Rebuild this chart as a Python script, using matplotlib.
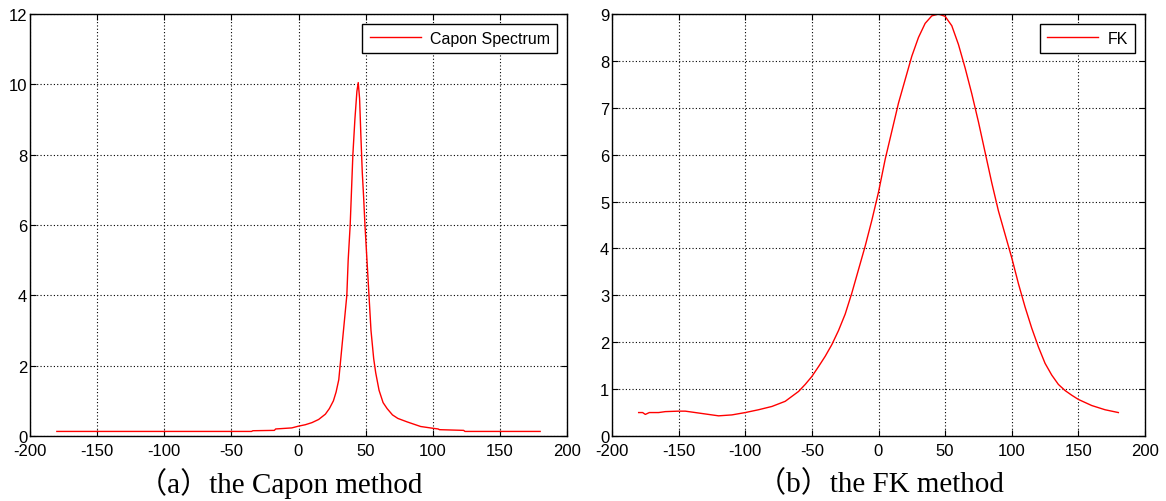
import numpy as np
import matplotlib
matplotlib.use("Agg")
import matplotlib.pyplot as plt

# Capon spectrum
capon_deg = [-180, -35, -34, -18, -17, -5, 0, 5, 10, 15, 20, 23, 26, 28, 30,
             31, 33, 34.5, 36, 37, 38.5, 39.5, 40.5, 42, 43.5, 44.5, 45.5,
             46.5, 47.5, 48.5, 49.5, 51, 52.5, 54, 56, 57.5, 60, 63, 66, 70,
             74, 81, 91, 100, 104, 105, 123, 124, 180]
capon_val = [0.13, 0.13, 0.15, 0.16, 0.2, 0.23, 0.28, 0.32, 0.38, 0.47, 0.62,
             0.78, 1.0, 1.25, 1.6, 2.0, 2.8, 3.4, 4.0, 5.0, 6.0, 7.0, 8.0, 9.0,
             9.8, 10.05, 9.6, 8.5, 7.5, 6.8, 6.0, 5.0, 4.0, 3.0, 2.2, 1.8, 1.3,
             0.95, 0.78, 0.6, 0.5, 0.4, 0.27, 0.22, 0.2, 0.18, 0.16, 0.13, 0.13]

# FK spectrum
fk_deg = [-180, -177, -175, -172, -165, -160, -150, -145, -140, -130, -120,
          -110, -100, -90, -80, -70, -60, -55, -50, -45, -40, -35, -30, -25,
          -20, -15, -10, -5, 0, 5, 10, 15, 20, 25, 30, 35, 40, 45, 50, 55,
          60, 65, 70, 75, 80, 85, 90, 95, 100, 105, 110, 115, 120, 125, 130,
          135, 140, 145, 150, 160, 170, 180]
fk_val = [0.50, 0.50, 0.46, 0.50, 0.50, 0.52, 0.53, 0.53, 0.51, 0.47, 0.43,
          0.45, 0.50, 0.56, 0.63, 0.74, 0.95, 1.1, 1.27, 1.48, 1.70, 1.95,
          2.25, 2.6, 3.05, 3.55, 4.05, 4.6, 5.2, 5.9, 6.5, 7.1, 7.6, 8.1, 8.5,
          8.8, 8.96, 9.0, 8.95, 8.75, 8.35, 7.85, 7.3, 6.7, 6.05, 5.4, 4.8,
          4.3, 3.8, 3.25, 2.75, 2.3, 1.9, 1.55, 1.3, 1.1, 0.97, 0.87, 0.78,
          0.65, 0.56, 0.50]

xticks = [-200, -150, -100, -50, 0, 50, 100, 150, 200]

plt.rcParams['axes.unicode_minus'] = False
plt.rcParams['font.family'] = ['Liberation Sans', 'DejaVu Sans']

fig = plt.figure(figsize=(11.66, 5.02), dpi=100)
W, H = 1166, 502


def make_axes(x0, x1, y0, y1):
    return fig.add_axes([x0 / W, 1 - y1 / H, (x1 - x0) / W, (y1 - y0) / H])


def style(ax, ymax):
    ax.set_xlim(-200, 200)
    ax.set_ylim(0, ymax)
    ax.set_xticks(xticks)
    ax.set_yticks(range(0, ymax + 1, 2 if ymax == 12 else 1))
    ax.grid(True, color='black', linestyle=(0, (1, 2)), linewidth=0.8)
    ax.tick_params(direction='in', top=True, right=True, length=4,
                   labelsize=12, color='black')
    ax.tick_params(axis='x', pad=5)
    ax.tick_params(axis='y', pad=2)
    for s in ax.spines.values():
        s.set_linewidth(1.0)
        s.set_color('black')


ax1 = make_axes(30, 567, 15, 437)
ax1.plot(capon_deg, capon_val, color='red', linewidth=1.0, label='Capon Spectrum')
style(ax1, 12)

ax2 = make_axes(612, 1145, 15, 437)
ax2.plot(fk_deg, fk_val, color='red', linewidth=1.0, label='FK')
style(ax2, 9)

for ax in (ax1, ax2):
    leg = ax.legend(loc='upper right', fontsize=11.5, handlelength=3.2,
                    fancybox=False, framealpha=1, edgecolor='black',
                    borderaxespad=0.6, borderpad=0.45, handletextpad=0.6)
    leg.get_frame().set_linewidth(1.0)

cap_font = ['Liberation Serif', 'Noto Sans CJK SC']
fig.text(280 / W, 1 - 484 / H, '（a）the Capon method', ha='center', va='center',
         fontsize=21, family=cap_font)
fig.text(880 / W, 1 - 484 / H, '（b）the FK method', ha='center', va='center',
         fontsize=21, family=cap_font)

fig.savefig('out.png', dpi=100)
